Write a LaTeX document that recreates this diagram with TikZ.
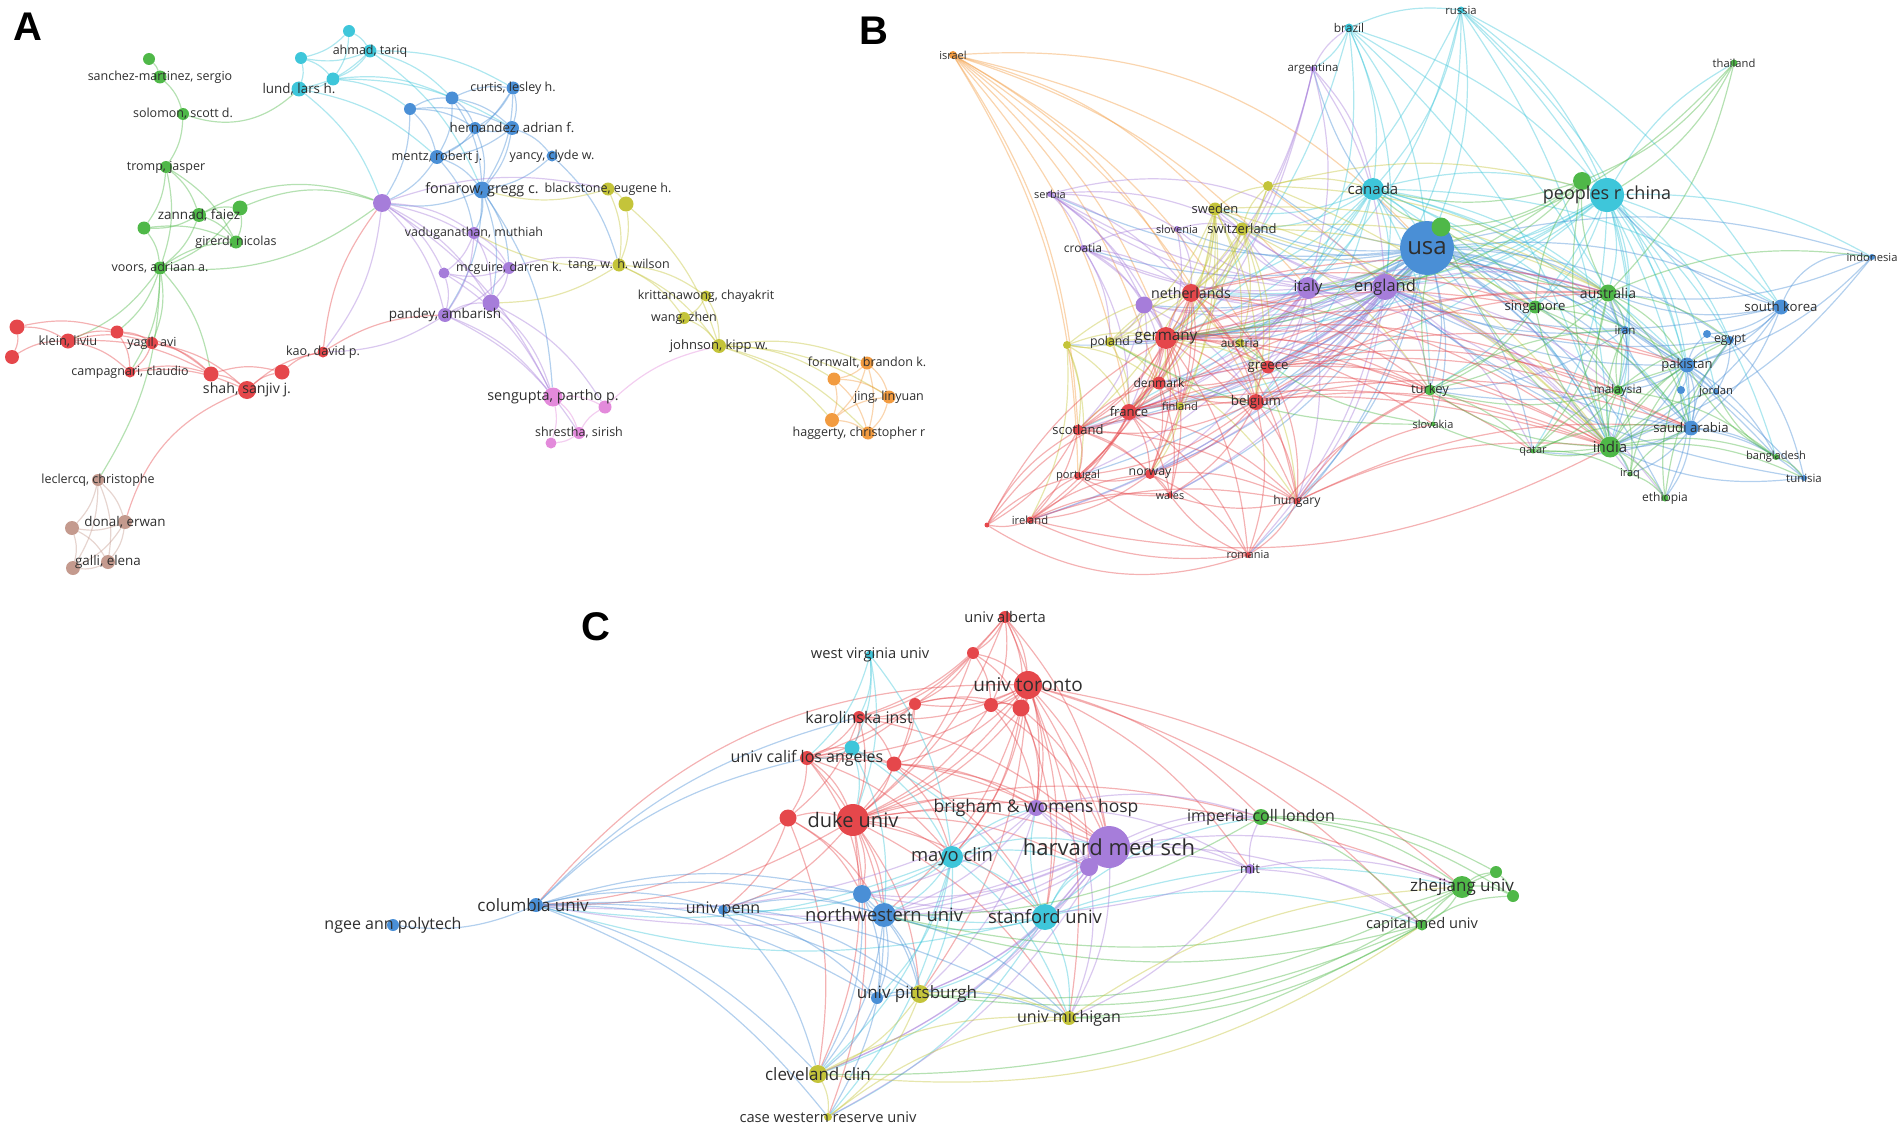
\documentclass[tikz,border=0pt]{standalone}
\usepackage{fontspec}
\setmainfont{Open Sans}
\newfontfamily\pfont{Liberation Sans}
\usepackage{tikz}
\usetikzlibrary{backgrounds}

\definecolor{vred}{HTML}{E5474B}
\definecolor{vgreen}{HTML}{4FB848}
\definecolor{vblue}{HTML}{4A8FD6}
\definecolor{vcyan}{HTML}{3EC6DA}
\definecolor{vpurple}{HTML}{A67DDA}
\definecolor{vyellow}{HTML}{C4C43A}
\definecolor{vorange}{HTML}{F29B40}
\definecolor{vbrown}{HTML}{C49A8E}
\definecolor{vpink}{HTML}{E38ADB}

\begin{document}
\begin{tikzpicture}[x=1pt, y=-1pt,
   nd/.style 2 args={circle, inner sep=0pt, minimum size=#2, fill=#1},
   lab/.style={font=\fontsize{#1}{#1}\selectfont, text=black!82, inner sep=0pt},
   ed/.style={every edge/.style={draw=#1, draw opacity=.42, line width=1.2pt, bend left=15}},
   panel/.style={font=\pfont\bfseries\fontsize{40}{40}\selectfont, inner sep=0pt}]

   \useasboundingbox (0,0) rectangle (1900,1137);

   % panel letters
   \node[panel] (pA) at (28,27) {A};
   \node[panel] (pB) at (874,31) {B};
   \node[panel] (pC) at (596,627) {C};

   % ---------------- A: authors ----------------
   \node[nd={vgreen}{12}] (ag1) at (149,59) {};
   \node[nd={vgreen}{13}, label={[lab=12.5]center:{sanchez-martinez, sergio}}] (sanchez) at (160,77) {};
   \node[nd={vgreen}{12}, label={[lab=12.5]center:{solomon, scott d.}}] (solomon) at (183,114) {};
   \node[nd={vgreen}{12}, label={[lab=12.5]center:{tromp, jasper}}] (tromp) at (166,167) {};
   \node[nd={vgreen}{15}] (ag2) at (240,208) {};
   \node[nd={vgreen}{13}] (ag3) at (144,228) {};
   \node[nd={vgreen}{14}, label={[lab=13.5]center:{zannad, faiez}}] (zannad) at (199,215) {};
   \node[nd={vgreen}{13}, label={[lab=12.5]center:{girerd, nicolas}}] (girerd) at (236,242) {};
   \node[nd={vgreen}{13}, label={[lab=12.5]center:{voors, adriaan a.}}] (voors) at (160,268) {};

   \node[nd={vcyan}{12}] (ac1) at (349,31) {};
   \node[nd={vcyan}{12}] (ac2) at (301,58) {};
   \node[nd={vcyan}{13}] (ac3) at (333,79) {};
   \node[nd={vcyan}{13}, label={[lab=12.5]center:{ahmad, tariq}}] (ahmad) at (370,51) {};
   \node[nd={vcyan}{15}, label={[lab=13.4]center:{lund, lars h.}}] (lund) at (299,89) {};

   \node[nd={vblue}{12}] (ab1) at (410,109) {};
   \node[nd={vblue}{13}] (ab2) at (452,98) {};
   \node[nd={vblue}{12}] (ab3) at (475,128) {};
   \node[nd={vblue}{13}, label={[lab=12.5]center:{curtis, lesley h.}}] (curtis) at (513,88) {};
   \node[nd={vblue}{14}, label={[lab=13.3]center:{hernandez, adrian f.}}] (hernandez) at (512,128) {};
   \node[nd={vblue}{14}, label={[lab=12.7]center:{mentz, robert j.}}] (mentz) at (437,157) {};
   \node[nd={vblue}{11}, label={[lab=12.5]center:{yancy, clyde w.}}] (yancy) at (552,156) {};
   \node[nd={vblue}{17}, label={[lab=14.3]center:{fonarow, gregg c.}}] (fonarow) at (482,190) {};

   \node[nd={vpurple}{18}] (ap1) at (382,203) {};
   \node[nd={vpurple}{11}] (ap2) at (444,273) {};
   \node[nd={vpurple}{17}] (ap3) at (491,303) {};
   \node[nd={vpurple}{12}, label={[lab=12.4]center:{vaduganathan, muthiah}}] (vadug) at (474,233) {};
   \node[nd={vpurple}{12}, label={[lab=12.5]center:{mcguire, darren k.}}] (mcguire) at (509,268) {};
   \node[nd={vpurple}{14}, label={[lab=13.5]center:{pandey, ambarish}}] (pandey) at (445,315) {};

   \node[nd={vyellow}{15}] (ay1) at (626,204) {};
   \node[nd={vyellow}{13}, label={[lab=12.5]center:{blackstone, eugene h.}}] (blackstone) at (608,189) {};
   \node[nd={vyellow}{13}, label={[lab=12.5]center:{tang, w. h. wilson}}] (tang) at (619,265) {};
   \node[nd={vyellow}{11}, label={[lab=12.5]center:{krittanawong, chayakrit}}] (kritt) at (706,296) {};
   \node[nd={vyellow}{12}, label={[lab=12.5]center:{wang, zhen}}] (wang) at (684,318) {};
   \node[nd={vyellow}{14}, label={[lab=13]center:{johnson, kipp w.}}] (johnson) at (719,346) {};

   \node[nd={vorange}{13}] (ao1) at (834,379) {};
   \node[nd={vorange}{14}] (ao2) at (832,420) {};
   \node[nd={vorange}{13}, label={[lab=12.5]center:{fornwalt, brandon k.}}] (fornwalt) at (867,363) {};
   \node[nd={vorange}{13}, label={[lab=12.5]center:{jing, linyuan}}] (jing) at (889,397) {};
   \node[nd={vorange}{13}, label={[lab=12.5, xshift=-9]center:{haggerty, christopher r}}] (haggerty) at (868,433) {};

   \node[nd={vpink}{13}] (ak1) at (605,407) {};
   \node[nd={vpink}{11}] (ak2) at (551,443) {};
   \node[nd={vpink}{19}, label={[lab=14.4]center:{sengupta, partho p.}}] (sengupta) at (553,397) {};
   \node[nd={vpink}{12}, label={[lab=12.5]center:{shrestha, sirish}}] (shrestha) at (579,433) {};

   \node[nd={vred}{15}] (ar1) at (17,327) {};
   \node[nd={vred}{14}] (ar2) at (12,357) {};
   \node[nd={vred}{13}] (ar3) at (117,332) {};
   \node[nd={vred}{15}] (ar4) at (211,374) {};
   \node[nd={vred}{15}] (ar5) at (282,372) {};
   \node[nd={vred}{15}, label={[lab=12.8]center:{klein, liviu}}] (klein) at (68,341) {};
   \node[nd={vred}{12}, label={[lab=12.5]center:{yagil, avi}}] (yagil) at (152,343) {};
   \node[nd={vred}{11}, label={[lab=12.5]center:{campagnari, claudio}}] (campagnari) at (130,372) {};
   \node[nd={vred}{18}, label={[lab=14.2]center:{shah, sanjiv j.}}] (shah) at (247,390) {};
   \node[nd={vred}{11}, label={[lab=12.6]center:{kao, david p.}}] (kao) at (323,352) {};

   \node[nd={vbrown}{14}] (aw1) at (72,528) {};
   \node[nd={vbrown}{14}] (aw2) at (73,568) {};
   \node[nd={vbrown}{12}, label={[lab=12.5]center:{leclercq, christophe}}] (leclercq) at (98,480) {};
   \node[nd={vbrown}{14}, label={[lab=13.4]center:{donal, erwan}}] (donal) at (125,522) {};
   \node[nd={vbrown}{14}, label={[lab=13.4]center:{galli, elena}}] (galli) at (108,562) {};

   % ---------------- B: countries ----------------
   \node[nd={vorange}{8}, label={[lab=11]center:israel}] (israel) at (953,55) {};
   \node[nd={vcyan}{9}, label={[lab=12]center:brazil}] (brazil) at (1349,28) {};
   \node[nd={vcyan}{7}, label={[lab=11.3]center:russia}] (russia) at (1461,10) {};
   \node[nd={vpurple}{6}, label={[lab=11.4]center:argentina}] (argentina) at (1313,69) {};
   \node[nd={vgreen}{7}, label={[lab=11.2]center:thailand}] (thailand) at (1734,63) {};
   \node[nd={vpurple}{6}, label={[lab=11]center:serbia}] (serbia) at (1050,194) {};
   \node[nd={vpurple}{6}, label={[lab=12]center:croatia}] (croatia) at (1083,248) {};
   \node[nd={vyellow}{10}] (bys) at (1268,186) {};
   \node[nd={vyellow}{13}, label={[lab=13]center:sweden}] (sweden) at (1215,209) {};
   \node[nd={vpurple}{6}, label={[lab=11]center:slovenia}] (slovenia) at (1177,229) {};
   \node[nd={vyellow}{13}, label={[lab=13]center:switzerland}] (switzerland) at (1242,229) {};
   \node[nd={vcyan}{22}, label={[lab=15]center:canada}] (canada) at (1373,189) {};
   \node[nd={vpurple}{17}] (bpn) at (1144,305) {};
   \node[nd={vred}{18}, label={[lab=14.2]center:netherlands}] (netherlands) at (1191,293) {};
   \node[nd={vpurple}{22}, label={[lab=15]center:italy}] (italy) at (1308,288) {};
   \node[nd={vpurple}{26}, label={[lab=16.4]center:england}] (england) at (1385,287) {};
   \node[nd={vblue}{54}, label={[lab=24]center:usa}] (usa) at (1427,248) {};
   \node[nd={vgreen}{19}] (bgu) at (1441,227) {};
   \node[nd={vgreen}{18}] (bgc) at (1582,181) {};
   \node[nd={vcyan}{34}, label={[lab=18]center:peoples r china}] (china) at (1607,195) {};
   \node[nd={vblue}{6}, label={[lab=11.2]center:indonesia}] (indonesia) at (1872,257) {};
   \node[nd={vyellow}{8}] (byp) at (1067,345) {};
   \node[nd={vyellow}{10}, label={[lab=12.3]center:poland}] (poland) at (1110,342) {};
   \node[nd={vred}{22}, label={[lab=15.2]center:germany}] (germany) at (1166,338) {};
   \node[nd={vyellow}{9}, label={[lab=11.9]center:austria}] (austria) at (1240,343) {};
   \node[nd={vred}{13}, label={[lab=13.2]center:greece}] (greece) at (1268,367) {};
   \node[nd={vred}{13}, label={[lab=12.1]center:denmark}] (denmark) at (1159,383) {};
   \node[nd={vyellow}{8}, label={[lab=11.1]center:finland}] (finland) at (1180,406) {};
   \node[nd={vred}{16}, label={[lab=13.1]center:france}] (france) at (1129,412) {};
   \node[nd={vred}{16}, label={[lab=13.3]center:belgium}] (belgium) at (1256,402) {};
   \node[nd={vred}{11}, label={[lab=13]center:scotland}] (scotland) at (1078,430) {};
   \node[nd={vred}{8}, label={[lab=11.1]center:portugal}] (portugal) at (1078,476) {};
   \node[nd={vred}{10}, label={[lab=12.3]center:norway}] (norway) at (1150,474) {};
   \node[nd={vred}{6}, label={[lab=10.8]center:wales}] (wales) at (1170,495) {};
   \node[nd={vred}{7}, label={[lab=12.2]center:hungary}] (hungary) at (1297,501) {};
   \node[nd={vred}{7}, label={[lab=11.2]center:ireland}] (ireland) at (1030,520) {};
   \node[nd={vred}{5}] (brs) at (987,525) {};
   \node[nd={vred}{6}, label={[lab=11]center:romania}] (romania) at (1248,555) {};
   \node[nd={vgreen}{17}, label={[lab=14]center:australia}] (australia) at (1608,293) {};
   \node[nd={vgreen}{13}, label={[lab=13.2]center:singapore}] (singapore) at (1535,307) {};
   \node[nd={vblue}{8}, label={[lab=11.6]center:iran}] (iran) at (1625,330) {};
   \node[nd={vblue}{15}, label={[lab=13.2]center:south korea}] (skorea) at (1781,307) {};
   \node[nd={vblue}{8}] (bbe) at (1707,334) {};
   \node[nd={vblue}{8}, label={[lab=12.4]center:egypt}] (egypt) at (1730,340) {};
   \node[nd={vblue}{15}, label={[lab=13]center:pakistan}] (pakistan) at (1687,365) {};
   \node[nd={vgreen}{10}, label={[lab=11.8]center:malaysia}] (malaysia) at (1618,390) {};
   \node[nd={vblue}{8}] (bbj) at (1681,390) {};
   \node[nd={vblue}{6}, label={[lab=11.2]center:jordan}] (jordan) at (1716,392) {};
   \node[nd={vgreen}{11}, label={[lab=13]center:turkey}] (turkey) at (1430,390) {};
   \node[nd={vgreen}{5}, label={[lab=11]center:slovakia}] (slovakia) at (1433,424) {};
   \node[nd={vblue}{15}, label={[lab=13.2]center:saudi arabia}] (saudi) at (1691,428) {};
   \node[nd={vgreen}{5}, label={[lab=11]center:qatar}] (qatar) at (1533,451) {};
   \node[nd={vgreen}{21}, label={[lab=15]center:india}] (india) at (1610,447) {};
   \node[nd={vgreen}{5}, label={[lab=11]center:iraq}] (iraq) at (1630,474) {};
   \node[nd={vgreen}{6}, label={[lab=11.1]center:bangladesh}] (bangladesh) at (1776,457) {};
   \node[nd={vblue}{6}, label={[lab=11.4]center:tunisia}] (tunisia) at (1804,478) {};
   \node[nd={vgreen}{7}, label={[lab=12]center:ethiopia}] (ethiopia) at (1665,498) {};

   % ---------------- C: organisations ----------------
   \node[nd={vred}{12}, label={[lab=14.7]center:univ alberta}] (alberta) at (1005,617) {};
   \node[nd={vcyan}{9}, label={[lab=14.7]center:west virginia univ}] (wvu) at (870,655) {};
   \node[nd={vred}{12}] (cr1) at (973,653) {};
   \node[nd={vred}{12}] (cr2) at (915,704) {};
   \node[nd={vred}{14}] (cr3) at (991,705) {};
   \node[nd={vred}{28}, label={[lab=19]center:univ toronto}] (toronto) at (1028,685) {};
   \node[nd={vred}{17}] (cr4) at (1021,708) {};
   \node[nd={vred}{12}, label={[lab=16]center:karolinska inst}] (karolinska) at (859,717) {};
   \node[nd={vcyan}{15}] (cc1) at (852,748) {};
   \node[nd={vred}{14}, label={[lab=16]center:univ calif los angeles}] (ucla) at (807,758) {};
   \node[nd={vred}{15}] (cr5) at (894,764) {};
   \node[nd={vred}{17}] (cr6) at (788,818) {};
   \node[nd={vred}{32}, label={[lab=20]center:duke univ}] (duke) at (853,820) {};
   \node[nd={vpurple}{16}, label={[lab=17.5]center:brigham \& womens hosp}] (brigham) at (1036,808) {};
   \node[nd={vpurple}{18}] (cp1) at (1089,867) {};
   \node[nd={vpurple}{42}, label={[lab=22]center:harvard med sch}] (harvard) at (1109,847) {};
   \node[nd={vcyan}{22}, label={[lab=18.4]center:mayo clin}] (mayo) at (952,857) {};
   \node[nd={vgreen}{16}, label={[lab=16]center:imperial coll london}] (imperial) at (1261,817) {};
   \node[nd={vpurple}{10}, label={[lab=13]center:mit}] (mit) at (1250,869) {};
   \node[nd={vgreen}{12}] (cg1) at (1496,872) {};
   \node[nd={vgreen}{12}] (cg2) at (1513,896) {};
   \node[nd={vgreen}{22}, label={[lab=17]center:zhejiang univ}] (zhejiang) at (1462,887) {};
   \node[nd={vgreen}{11}, label={[lab=14.6]center:capital med univ}] (capital) at (1422,925) {};
   \node[nd={vblue}{18}] (cb1) at (862,894) {};
   \node[nd={vblue}{24}, label={[lab=18.4]center:northwestern univ}] (northwestern) at (884,915) {};
   \node[nd={vcyan}{26}, label={[lab=18.4]center:stanford univ}] (stanford) at (1045,917) {};
   \node[nd={vblue}{14}, label={[lab=17, xshift=-3]center:columbia univ}] (columbia) at (536,905) {};
   \node[nd={vblue}{12}, label={[lab=16]center:ngee ann polytech}] (ngee) at (393,925) {};
   \node[nd={vblue}{10}, label={[lab=16]center:univ penn}] (penn) at (723,910) {};
   \node[nd={vblue}{12}] (cb2) at (877,998) {};
   \node[nd={vyellow}{18}, label={[lab=17, xshift=-3]center:univ pittsburgh}] (pittsburgh) at (920,994) {};
   \node[nd={vyellow}{18}, label={[lab=17]center:cleveland clin}] (cleveland) at (818,1074) {};
   \node[nd={vyellow}{8}, label={[lab=14.7]center:case western reserve univ}] (casewestern) at (828,1117) {};
   \node[nd={vyellow}{14}, label={[lab=16]center:univ michigan}] (michigan) at (1069,1018) {};

   \begin{pgfonlayer}{background}
   % links A
   \path[ed=vgreen]
    (ag1) edge (sanchez)
    (sanchez) edge (solomon)
    (solomon) edge (tromp) edge[bend right=30] (lund)
    (tromp) edge (zannad) edge (ag3) edge (voors) edge (girerd)
    (zannad) edge (ag2) edge (girerd) edge (voors) edge (ag3) edge[bend left=25] (ap1)
    (ag2) edge (girerd) edge (voors) edge[bend left=20] (ap1)
    (ag3) edge (voors) edge (girerd)
    (voors) edge (girerd) edge[bend right=20] (ap1) edge (klein) edge (yagil) edge (campagnari) edge (ar4) edge (leclercq) edge (ar3);
   \path[ed=vcyan]
    (ac1) edge (ahmad) edge (ac3) edge (ac2)
    (ahmad) edge (ac2) edge (lund) edge (ac3) edge (ab2) edge (curtis) edge (fonarow)
    (ac2) edge (lund) edge (ac3)
    (ac3) edge (lund) edge (ab1) edge (hernandez) edge (ab2)
    (lund) edge (ap1) edge (mentz);
   \path[ed=vblue]
    (ab1) edge (ab2) edge (hernandez) edge (mentz) edge (ap1) edge (ab3)
    (ab2) edge (curtis) edge (hernandez) edge (mentz) edge (ab3) edge (fonarow)
    (curtis) edge (hernandez) edge (ab3) edge (fonarow) edge (mentz)
    (hernandez) edge (yancy) edge (fonarow) edge (mentz) edge (ab3)
    (ab3) edge (fonarow) edge (mentz)
    (mentz) edge (fonarow) edge (ap1) edge (vadug)
    (yancy) edge (fonarow) edge (tang)
    (fonarow) edge (vadug) edge (pandey) edge (mcguire) edge (ap3) edge (ap1) edge (sengupta);
   \path[ed=vpurple]
    (ap1) edge (vadug) edge (mcguire) edge (pandey) edge (ap3) edge (ap2) edge (sengupta) edge (kao) edge (blackstone)
    (vadug) edge (mcguire) edge (ap3) edge (pandey) edge (ap2)
    (mcguire) edge (ap3) edge (ap2) edge (tang) edge (pandey)
    (ap2) edge (ap3) edge (pandey) edge (sengupta)
    (pandey) edge (ap3) edge (sengupta) edge (kao) edge (shrestha)
    (ap3) edge (sengupta) edge (ak1);
   \path[ed=vyellow]
    (blackstone) edge (ay1) edge (tang) edge (fonarow)
    (ay1) edge (tang) edge (johnson)
    (tang) edge (kritt) edge (wang) edge (johnson) edge (ap3) edge (vadug)
    (kritt) edge (johnson) edge (wang)
    (wang) edge (johnson)
    (johnson) edge (fornwalt) edge (jing) edge (haggerty) edge (ao1) edge (ao2);
   \path[ed=vorange]
    (fornwalt) edge (ao1) edge (jing) edge (haggerty) edge (ao2)
    (ao1) edge (jing) edge (ao2) edge (haggerty)
    (ao2) edge (haggerty) edge (jing)
    (jing) edge (haggerty);
   \path[ed=vpink]
    (sengupta) edge (ak1) edge (shrestha) edge (ak2)
    (shrestha) edge (ak1) edge (ak2)
    (ak1) edge (johnson);
   \path[ed=vred]
    (ar1) edge (ar2) edge (klein) edge (ar3)
    (ar2) edge (klein)
    (klein) edge (ar3) edge (yagil) edge (campagnari) edge (ar4)
    (ar3) edge (yagil) edge (campagnari) edge (ar4)
    (yagil) edge (campagnari) edge (ar4) edge (shah)
    (campagnari) edge (ar4) edge (shah)
    (ar4) edge (shah) edge (ar5)
    (shah) edge (ar5) edge (kao) edge[bend right=25] (donal)
    (ar5) edge (kao)
    (kao) edge (pandey) edge (ap1);
   \path[ed=vbrown]
    (leclercq) edge (donal) edge (aw1) edge (galli) edge (aw2)
    (donal) edge (aw1) edge (galli) edge (aw2)
    (aw1) edge (galli) edge (aw2)
    (galli) edge (aw2);

   % links B
   \path[ed=vorange]
    (israel) edge (germany) edge (netherlands) edge (france) edge (scotland) edge (belgium) edge (greece)
             edge (portugal) edge (denmark) edge[bend left=25] (usa) edge (sweden) edge (england) edge (italy);
   \path[ed=vcyan]
    (brazil) edge (usa) edge (china) edge (canada) edge (england) edge (russia) edge (india) edge (australia)
             edge (italy) edge (argentina) edge (germany)
    (russia) edge (usa) edge (china) edge (canada) edge (england) edge (germany) edge (india) edge (italy)
             edge (saudi) edge (pakistan) edge (skorea)
    (canada) edge (usa) edge (china) edge (england) edge (italy) edge (germany) edge (netherlands) edge (france)
             edge (india) edge (australia) edge (sweden) edge (switzerland) edge (pakistan) edge (saudi)
             edge (skorea) edge (belgium) edge (scotland) edge (singapore) edge (turkey) edge (iran)
    (china) edge (usa) edge (england) edge (australia) edge (india) edge (pakistan) edge (saudi) edge (skorea)
            edge (singapore) edge (malaysia) edge (germany) edge (italy) edge (netherlands) edge (france)
            edge (indonesia) edge (thailand) edge (egypt) edge (iran) edge (turkey) edge (bgc) edge (bangladesh)
            edge (jordan) edge (qatar);
   \path[ed=vblue]
    (usa) edge (england) edge (italy) edge (germany) edge (netherlands) edge (france) edge (belgium) edge (greece)
          edge (denmark) edge (sweden) edge (switzerland) edge (austria) edge (poland) edge (scotland) edge (norway)
          edge (portugal) edge (ireland) edge (hungary) edge (romania) edge (wales) edge (finland) edge (serbia)
          edge (croatia) edge (slovenia) edge (argentina) edge (india) edge (australia) edge (singapore)
          edge (malaysia) edge (turkey) edge (slovakia) edge (qatar) edge (pakistan) edge (saudi) edge (iran)
          edge (egypt) edge (jordan) edge (skorea) edge (ethiopia) edge (iraq) edge (bangladesh) edge (tunisia)
          edge (indonesia) edge (bgu) edge (byp) edge (bys) edge (bpn)
    (skorea) edge (china) edge (australia) edge (india) edge (pakistan) edge (saudi) edge (egypt)
             edge[bend left=40] (indonesia) edge (bbe) edge (england)
    (pakistan) edge (saudi) edge (egypt) edge (iran) edge (jordan) edge (india) edge (malaysia) edge (bbe)
               edge (bbj) edge (england) edge (australia) edge (turkey) edge (bangladesh) edge (ethiopia)
    (saudi) edge (egypt) edge (jordan) edge (india) edge (tunisia) edge (ethiopia) edge (iraq) edge (australia)
            edge (bangladesh) edge (bbj) edge (malaysia) edge (england) edge (qatar)
    (egypt) edge (jordan) edge (bbe) edge (india) edge (tunisia) edge (england)
    (iran) edge (india) edge (australia) edge (england) edge (malaysia) edge (turkey)
    (indonesia) edge (australia) edge (pakistan) edge (india)
    (tunisia) edge (india) edge (england);
   \path[ed=vpurple]
    (england) edge (italy) edge (germany) edge (netherlands) edge (france) edge (belgium) edge (greece)
              edge (scotland) edge (ireland) edge (wales) edge (sweden) edge (switzerland) edge (india)
              edge (australia) edge (singapore) edge (turkey) edge (malaysia) edge (qatar) edge (hungary)
              edge (norway) edge (denmark) edge (bpn) edge (serbia) edge (croatia) edge (romania)
              edge (ethiopia) edge (iraq)
    (italy) edge (germany) edge (netherlands) edge (france) edge (belgium) edge (greece) edge (switzerland)
            edge (austria) edge (sweden) edge (croatia) edge (serbia) edge (slovenia) edge (poland) edge (india)
            edge (australia) edge (turkey) edge (hungary) edge (denmark) edge (norway) edge (scotland)
            edge (portugal) edge (bpn)
    (serbia) edge (croatia) edge (germany) edge (bpn) edge (netherlands) edge (slovenia)
             edge[bend left=30] (england) edge (switzerland)
    (croatia) edge (germany) edge (slovenia) edge (netherlands) edge (bpn) edge (france) edge (poland)
    (slovenia) edge (germany) edge (netherlands) edge (switzerland)
    (argentina) edge (italy) edge (england) edge (germany) edge (netherlands) edge (canada) edge (brazil) edge (france)
    (bpn) edge (netherlands) edge (germany) edge (france) edge (denmark) edge (poland) edge (scotland) edge (belgium);
   \path[ed=vyellow]
    (sweden) edge (switzerland) edge (germany) edge (netherlands) edge (norway) edge (denmark) edge (finland)
             edge (poland) edge (france) edge (bys) edge (belgium) edge (scotland) edge (austria) edge (india)
             edge (australia)
    (switzerland) edge (germany) edge (netherlands) edge (austria) edge (france) edge (belgium) edge (greece)
                  edge (bys) edge (india) edge (australia) edge (singapore) edge (turkey) edge (poland)
    (bys) edge (canada) edge (germany) edge (netherlands) edge (china) edge (india) edge (australia)
    (poland) edge (germany) edge (netherlands) edge (france) edge (byp) edge (denmark) edge (greece) edge (hungary)
    (byp) edge (germany) edge (france) edge (scotland) edge (netherlands) edge (ireland) edge (portugal) edge (denmark)
    (austria) edge (germany) edge (greece) edge (belgium) edge (hungary) edge (netherlands)
    (finland) edge (norway) edge (germany) edge (belgium);
   \path[ed=vred]
    (germany) edge (netherlands) edge (france) edge (belgium) edge (greece) edge (denmark) edge (scotland)
              edge (norway) edge (portugal) edge (finland) edge (hungary) edge (ireland) edge (wales) edge (romania)
              edge (india) edge (turkey) edge (australia) edge (singapore) edge (malaysia) edge (austria)
              edge (slovakia) edge (saudi) edge (pakistan) edge (qatar)
    (netherlands) edge (france) edge (belgium) edge (denmark) edge (greece) edge (scotland) edge (norway)
                  edge (finland) edge (portugal) edge (australia) edge (india) edge (singapore) edge (turkey)
                  edge (hungary)
    (france) edge (belgium) edge (denmark) edge (scotland) edge (greece) edge (portugal) edge (norway)
             edge (finland) edge (ireland) edge (wales) edge (hungary) edge (romania) edge (india) edge (turkey)
             edge (australia)
    (belgium) edge (greece) edge (denmark) edge (scotland) edge (norway) edge (hungary) edge (romania)
              edge (india) edge (turkey) edge (australia) edge (saudi) edge (portugal) edge (wales)
    (greece) edge (denmark) edge (hungary) edge (india) edge (turkey) edge (australia) edge (saudi)
             edge (pakistan) edge (malaysia)
    (scotland) edge (ireland) edge (portugal) edge (norway) edge (wales) edge (denmark) edge (finland)
               edge (brs) edge (hungary) edge (india)
    (denmark) edge (norway) edge (finland) edge (wales)
    (norway) edge (wales) edge (portugal) edge (ireland) edge (hungary) edge (romania)
    (ireland) edge (brs) edge (portugal) edge (wales) edge (norway) edge (hungary) edge[bend right=20] (india)
    (brs) edge (portugal) edge (scotland) edge (germany) edge[bend right=25] (romania) edge (france)
    (hungary) edge (romania) edge (wales) edge (india) edge (saudi) edge (turkey) edge (slovakia)
    (romania) edge (wales) edge (portugal) edge (ireland) edge (turkey)
    (wales) edge (portugal);
   \path[ed=vgreen]
    (india) edge (australia) edge (pakistan) edge (saudi) edge (singapore) edge (malaysia) edge (turkey)
            edge (qatar) edge (iraq) edge (ethiopia) edge (bangladesh) edge (egypt) edge (iran) edge (jordan)
            edge (tunisia) edge (bgc) edge (bgu) edge (slovakia)
    (australia) edge (singapore) edge (malaysia) edge (iran) edge (pakistan) edge (saudi) edge (turkey)
                edge (bgc) edge (bgu) edge (egypt) edge (qatar) edge (indonesia)
    (singapore) edge (malaysia) edge (turkey) edge (bgu) edge (bgc) edge (pakistan) edge (saudi)
    (malaysia) edge (iran) edge (qatar) edge (iraq) edge (egypt) edge (bangladesh) edge (turkey)
    (turkey) edge (slovakia) edge (qatar) edge (iran) edge (bgu)
    (thailand) edge (china) edge (bgc) edge (usa) edge (australia)
    (bgc) edge (bgu) edge (canada) edge (england) edge (germany)
    (bgu) edge (canada) edge (england) edge (germany) edge (italy)
    (qatar) edge (saudi) edge (iraq) edge (pakistan)
    (iraq) edge (saudi) edge (ethiopia) edge (pakistan)
    (ethiopia) edge (pakistan) edge (egypt)
    (bangladesh) edge (pakistan) edge (tunisia) edge (jordan)
    (slovakia) edge (poland) edge (austria);

   % links C
   \path[ed=vred]
    (alberta) edge (cr1) edge (toronto) edge (cr3) edge (cr4) edge (duke) edge (karolinska) edge (ucla)
              edge (harvard) edge (brigham)
    (cr1) edge (toronto) edge (cr2) edge (karolinska) edge (cr4) edge (duke) edge (cr3)
    (toronto) edge (cr3) edge (cr4) edge (cr2) edge (karolinska) edge (duke) edge (ucla) edge (cr5)
              edge (brigham) edge (harvard) edge (stanford) edge (mayo) edge (imperial) edge (zhejiang)
              edge (mit) edge (northwestern) edge[bend right=25] (columbia) edge (capital) edge (cp1)
              edge (pittsburgh) edge (michigan)
    (cr2) edge (karolinska) edge (ucla) edge (duke) edge (cr5) edge (cr3) edge (cr4)
    (cr3) edge (cr4) edge (duke) edge (harvard) edge (brigham)
    (cr4) edge (harvard) edge (brigham) edge (duke) edge (mayo) edge (stanford)
    (karolinska) edge (ucla) edge (duke) edge (cr5) edge (cc1) edge (cr6) edge (harvard)
    (ucla) edge (duke) edge (cr6) edge (cr5) edge (cc1) edge (northwestern) edge (harvard) edge (cb1) edge (mayo)
    (cr5) edge (duke) edge (harvard) edge (brigham) edge (mayo) edge (stanford)
    (cr6) edge (duke) edge (northwestern) edge (cleveland) edge (columbia) edge (cb1) edge (penn)
    (duke) edge (mayo) edge (harvard) edge (brigham) edge (northwestern) edge (stanford) edge (cb1) edge (penn)
           edge (pittsburgh) edge (cleveland) edge (columbia) edge (michigan) edge (imperial) edge (cp1)
           edge (casewestern) edge (zhejiang);
   \path[ed=vcyan]
    (wvu) edge (cc1) edge (karolinska) edge (duke) edge (mayo) edge (ucla)
    (cc1) edge (mayo) edge (duke) edge (ucla) edge (northwestern) edge (stanford)
    (mayo) edge (harvard) edge (stanford) edge (northwestern) edge (cb1) edge (brigham) edge (pittsburgh)
           edge (cleveland) edge (michigan) edge (columbia) edge (penn) edge (cp1) edge (cb2) edge (casewestern)
    (stanford) edge (harvard) edge (northwestern) edge (michigan) edge (pittsburgh) edge (cleveland) edge (cp1)
               edge (capital) edge (zhejiang) edge (brigham) edge (cb1) edge (casewestern) edge (imperial)
               edge (columbia);
   \path[ed=vpurple]
    (harvard) edge (brigham) edge (cp1) edge (mit) edge (imperial) edge (northwestern) edge (zhejiang)
              edge (capital) edge (columbia) edge (michigan) edge (pittsburgh) edge (cleveland) edge (penn)
              edge (cb1) edge (casewestern)
    (brigham) edge (cp1) edge (mit) edge (northwestern) edge (cb1) edge (imperial) edge (columbia) edge (pittsburgh)
    (cp1) edge (mit) edge (northwestern) edge (michigan) edge (cleveland) edge (pittsburgh) edge (imperial)
    (mit) edge (imperial) edge (zhejiang) edge (capital) edge (michigan) edge (cb1);
   \path[ed=vgreen]
    (imperial) edge (zhejiang) edge (cg1) edge (capital) edge (cg2) edge (northwestern)
    (zhejiang) edge (cg1) edge (cg2) edge (capital) edge (northwestern) edge (michigan) edge (pittsburgh)
    (capital) edge (cg2) edge (cg1) edge (michigan) edge (pittsburgh) edge (northwestern) edge (cleveland)
    (cg1) edge (cg2);
   \path[ed=vblue]
    (columbia) edge (ngee) edge (penn) edge (northwestern) edge (cb1) edge (karolinska) edge (pittsburgh)
               edge (cleveland) edge (michigan) edge (cb2) edge (ucla) edge (casewestern)
    (penn) edge (northwestern) edge (cb1) edge (pittsburgh) edge (cb2) edge (cleveland)
    (northwestern) edge (cb1) edge (pittsburgh) edge (cb2) edge (cleveland) edge (michigan) edge (casewestern)
    (cb1) edge (cb2) edge (pittsburgh) edge (cleveland)
    (cb2) edge (pittsburgh) edge (cleveland) edge (michigan);
   \path[ed=vyellow]
    (pittsburgh) edge (cleveland) edge (michigan) edge (casewestern)
    (cleveland) edge (casewestern) edge (michigan) edge[bend right=20] (capital)
    (casewestern) edge (michigan)
    (michigan) edge (zhejiang);
   \end{pgfonlayer}

\end{tikzpicture}
\end{document}
